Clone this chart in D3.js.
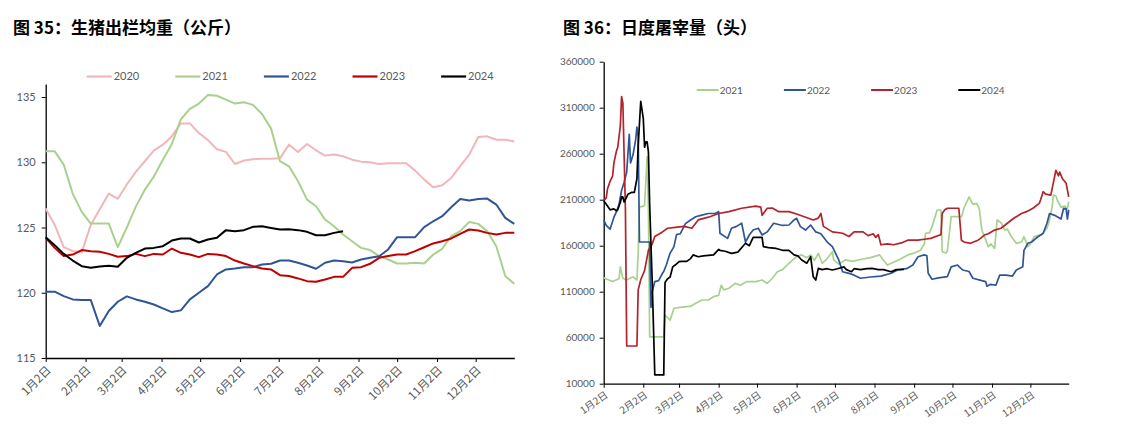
<!DOCTYPE html>
<html><head><meta charset="utf-8">
<script src="https://cdn.jsdelivr.net/npm/d3@7"></script>
<style>body{margin:0;background:#fff;} svg{display:block;}</style>
</head><body>
<svg id="c" width="1148" height="425"></svg>
<script>
// ---------- DATA ----------
const monthTicks = ["1月2日","2月2日","3月2日","4月2日","5月2日","6月2日","7月2日","8月2日","9月2日","10月2日","11月2日","12月2日"];
const leftYTicks = [115,120,125,130,135];
const rightYTicks = [10000,60000,110000,160000,210000,260000,310000,360000];
const leftYears = ["2020","2021","2022","2023","2024"];
const rightYears = ["2021","2022","2023","2024"];

// Fig 35: weekly average slaughter weight (kg), one value per week starting Jan 2
const w2020 = [126.45,125.2,123.5,123.2,123.1,125.2,126.4,127.6,127.2,128.3,129.26,130.08,130.9,131.35,132.0,132.98,132.98,132.24,131.7,131.0,130.8,129.87,130.13,130.23,130.28,130.28,130.3,131.35,130.79,131.4,130.92,130.51,130.59,130.46,130.2,130.05,130.0,129.87,129.92,129.92,129.92,129.36,128.67,128.09,128.24,128.8,129.7,130.59,131.94,131.99,131.73,131.73,131.6];
const w2021 = [130.84,130.84,129.82,127.6,126.2,125.3,125.3,125.3,123.5,125.0,126.6,127.9,128.9,130.2,131.4,133.3,134.1,134.5,135.15,135.1,134.8,134.5,134.6,134.4,133.7,132.6,130.08,129.69,128.55,127.14,126.63,125.61,125.1,124.46,123.95,123.44,123.27,122.81,122.55,122.24,122.24,122.3,122.24,122.93,123.37,124.34,124.72,125.43,125.28,124.72,123.57,121.28,120.69];
const w2022 = [120.08,120.08,119.74,119.49,119.45,119.45,117.45,118.6,119.31,119.72,119.49,119.31,119.1,118.8,118.52,118.65,119.49,120.0,120.51,121.4,121.79,121.86,121.96,121.96,122.17,122.22,122.47,122.47,122.3,122.09,121.84,122.3,122.47,122.42,122.32,122.55,122.68,122.8,123.32,124.26,124.26,124.26,125.03,125.48,125.87,126.56,127.19,127.07,127.19,127.22,126.76,125.74,125.28];
const w2023 = [124.21,123.44,122.81,122.93,123.27,123.19,123.14,122.98,122.76,122.81,122.98,122.81,122.98,122.93,123.39,123.06,122.93,122.73,122.98,122.93,122.81,122.47,122.24,122.04,121.86,121.79,121.35,121.28,121.1,120.89,120.84,121.02,121.22,121.22,121.91,121.96,122.22,122.68,122.81,122.93,122.93,123.19,123.49,123.78,123.95,124.16,124.52,124.85,124.77,124.59,124.46,124.59,124.59];
const w2024 = [124.26,123.65,122.98,122.47,122.04,121.91,122.01,122.07,121.99,122.68,123.06,123.39,123.44,123.57,124.0,124.16,124.16,123.85,124.08,124.21,124.8,124.72,124.8,125.05,125.1,124.97,124.85,124.87,124.8,124.67,124.41,124.41,124.59,124.72];

// Fig 36: daily slaughter (head), [days after Jan 2, thousand head]
const d2021 = [[0,125],[4,122.7],[7,121],[10,123],[12,124],[13,137],[15,124.6],[18,122.7],[21,125],[23,126],[26,122.7],[27,151.7],[28,202],[31,203],[32,203.8],[34,256.7],[35,200],[36,61],[47,61],[48,84.7],[52,79],[55,92],[60,93],[65,93.7],[68,94],[72,97.4],[77,101],[82,101],[86,104.6],[90,106],[92,117],[94,112],[98,113.7],[103,119],[107,117],[112,121],[119,121],[124,122.7],[128,119],[132,124.6],[136,131.7],[140,134],[145,140.9],[148,144.5],[151,148],[155,150],[159,147],[162,150],[165,144],[168,151.7],[171,140.9],[175,146],[179,153.5],[180,144.5],[184,140],[189,144.5],[195,143],[201,145],[209,147],[216,150],[218,146],[222,139],[227,142],[233,146],[238,150],[243,152],[248,155],[251,162],[252,173.5],[255,174],[257,180.7],[261,198.8],[264,198.8],[265,153.5],[268,152],[269,154],[272,191.5],[280,191.5],[282,200.7],[286,213],[289,205],[292,206],[294,200],[296,177],[298,170],[301,159],[303,162],[306,157],[308,188],[311,185],[314,177],[316,178],[319,170],[323,162.6],[327,164],[329,169.8],[332,159],[334,162],[337,169.8],[340,171],[343,172],[347,179],[349,188],[351,202],[352,215],[354,214],[355,209.7],[358,202],[361,203],[363,200],[364,208]];
const d2022 = [[0,188],[2,182],[5,178],[8,191],[10,197],[12,205],[14,220],[16,229],[18,240],[20,281],[21,250],[23,259],[25,275],[26,289],[27,278],[28,164],[36,164],[37,93],[38,110],[40,121],[43,122],[46,130],[47,132],[49,139],[52,152],[55,159],[57,172],[60,173],[64,184],[68,188],[72,191.5],[76,193],[82,195],[87,195],[90,197],[91,173.5],[97,168],[100,179],[104,181],[108,184.4],[111,164],[114,171.6],[117,177],[121,179],[124,171.6],[128,175],[133,184.4],[140,182],[145,182.5],[149,188],[151,189.8],[154,180.7],[158,177],[162,182.5],[166,175],[170,173],[175,164],[179,159],[184,144.5],[187,131.7],[192,130],[196,128],[201,124.6],[209,126],[217,127],[225,130],[230,133.6],[237,135],[242,139],[246,148],[251,150],[253,149],[254,130],[257,123.5],[262,125],[269,126.3],[272,137],[277,139],[281,133.6],[286,132],[289,124.6],[296,122],[299,121],[300,116],[303,118],[307,117],[310,128],[315,128],[320,127],[323,133.6],[328,137],[329,155],[332,162.6],[335,164],[340,169.8],[344,173.5],[347,184.4],[349,195],[353,193],[358,189],[360,200.7],[362,200],[363,189],[364,199]];
const d2023 = [[0,209],[2,212],[3,222],[5,230],[7,236],[8,250],[10,263],[11,267],[13,290],[14,322],[15,315],[17,200],[18,51],[26,51],[27,112],[29,123],[32,133],[35,155],[38,162],[40,170],[46,175],[50,179],[56,180],[63,181],[69,179],[74,188],[82,191],[90,195],[98,197],[108,200.7],[119,203],[123,202],[124,193],[128,200.7],[132,201],[137,197],[145,197],[151,194.5],[157,191.5],[164,188],[168,190],[170,195],[172,181],[179,175],[187,173.5],[192,170],[196,175],[203,175],[207,171],[211,173],[213,169],[215,172],[217,161],[222,162],[227,161],[233,163],[238,166],[246,166],[251,167],[256,168],[261,170.6],[264,172],[265,195],[267,199],[269,200.7],[278,200.7],[280,166],[282,164],[287,162.6],[293,166],[295,168],[298,171.6],[301,173],[306,177],[311,179],[316,184.4],[321,189.8],[327,195],[331,197],[336,200.7],[341,206],[342,210],[344,218.7],[346,216],[350,215],[354,242],[356,236],[357,240],[359,233],[362,227.8],[364,213]];
const d2024 = [[0,209],[2,205],[5,199],[8,200],[10,198],[11,199],[13,207],[14,213],[15,213],[16,207.5],[18,213],[19,216],[22,218],[24,218],[26,233],[27,269],[29,317],[31,298],[32,267],[33,273],[34,273],[35,262],[36,204],[38,120],[40,19.5],[47,19.5],[48,120],[50,124],[52,126],[54,137],[56,139],[59,142.6],[61,143],[65,143],[68,146],[70,150],[74,148],[78,149],[82,149.5],[86,150],[90,156],[91,155],[95,154],[100,151.7],[105,153],[111,162.6],[114,160],[117,169],[124,169],[125,159],[129,158],[135,157],[140,155],[145,155],[149,150],[152,149],[155,144.5],[159,141],[162,148],[164,126.3],[166,122.7],[168,135.4],[171,134],[175,135],[179,133.6],[183,135],[188,137],[190,134],[194,131.7],[196,135],[201,134],[206,135],[210,135.4],[215,134],[219,134],[225,131.7],[229,134],[235,134.3]];

// ---------- STYLE ----------
const leftColors = {"2020":"#F2B6BA","2021":"#A9D18E","2022":"#2F5597","2023":"#C00000","2024":"#000000"};
const rightColors = {"2021":"#A9D18E","2022":"#2F5597","2023":"#B4232C","2024":"#000000"};
const numFont = "Lato, 'Noto Sans CJK SC', sans-serif";
const cjkFont = "'Noto Sans CJK SC', sans-serif";
const txtCol = "#595959";

const svg = d3.select("#c");
const base = Date.UTC(2021,0,2);
const dayMs = 86400000;
const dateOf = d => new Date(base + d*dayMs);
const tickDates = monthTicks.map((t,i)=>new Date(Date.UTC(2021,i,2)));
const domainX = [new Date(base), new Date(Date.UTC(2022,0,1))];

// titles
svg.append("text").attr("x",13).attr("y",34).attr("font-family",cjkFont).attr("font-weight","bold")
  .attr("font-size",17).attr("fill","#000").text("图 35：生猪出栏均重（公斤）");
svg.append("text").attr("x",563).attr("y",34).attr("font-family",cjkFont).attr("font-weight","bold")
  .attr("font-size",17).attr("fill","#000").text("图 36：日度屠宰量（头）");

function drawAxes(g, x, y, yTicks, opts){
  const ya = g.append("g").attr("transform",`translate(${x.range()[0]},0)`)
    .call(d3.axisLeft(y).tickValues(yTicks).tickSize(4).tickSizeOuter(0).tickPadding(opts.ypad).tickFormat(d=>d));
  ya.select(".domain").attr("stroke","#000").attr("stroke-width",1.3);
  ya.selectAll(".tick line").attr("stroke","#000");
  ya.selectAll(".tick text").attr("fill",txtCol).attr("font-family",numFont).attr("font-size",opts.yfs);
  const xa = g.append("g").attr("transform",`translate(0,${y.range()[0]})`)
    .call(d3.axisBottom(x).tickValues(tickDates).tickSize(4).tickSizeOuter(0).tickFormat(""));
  xa.select(".domain").attr("stroke","#000").attr("stroke-width",1.3);
  xa.selectAll(".tick line").attr("stroke","#000");
  g.selectAll(".xl").data(tickDates).enter().append("text")
    .attr("transform",(d)=>`translate(${x(d)+opts.lx},${y.range()[0]+opts.ly}) rotate(${opts.rot})`)
    .attr("text-anchor","end").attr("dy","0.35em")
    .attr("font-family",cjkFont).attr("font-size",opts.xfs).attr("fill",txtCol)
    .text((d,i)=>monthTicks[i]);
}

// ---------- LEFT CHART ----------
{
  const g = svg.append("g");
  const x = d3.scaleUtc().domain(domainX).range([45.7,514.3]);
  const y = d3.scaleLinear().domain([115,136]).range([358,84]);
  drawAxes(g,x,y,leftYTicks,{ypad:6,yfs:11,xfs:11.5,lx:3,ly:10,rot:-45});
  const series = {"2020":w2020,"2021":w2021,"2022":w2022,"2023":w2023,"2024":w2024};
  const line = d3.line().x((d,i)=>x(dateOf(i*7))).y(d=>y(d));
  leftYears.forEach(yr=>{
    g.append("path").datum(series[yr]).attr("d",line).attr("fill","none")
      .attr("stroke",leftColors[yr]).attr("stroke-width",2).attr("stroke-linejoin","round");
  });
  // legend
  leftYears.forEach((yr,i)=>{
    const lx = 86.7 + i*88.6;
    g.append("line").attr("x1",lx).attr("x2",lx+25).attr("y1",76.5).attr("y2",76.5)
      .attr("stroke",leftColors[yr]).attr("stroke-width",2.2);
    g.append("text").attr("x",lx+27).attr("y",76.5).attr("dy","0.35em").attr("font-family",numFont)
      .attr("font-size",11).attr("fill",txtCol).text(yr);
  });
}

// ---------- RIGHT CHART ----------
{
  const g = svg.append("g");
  const x = d3.scaleUtc().domain(domainX).range([603.7,1068.7]);
  const y = d3.scaleLinear().domain([10000,360000]).range([383.7,61.7]);
  drawAxes(g,x,y,rightYTicks,{ypad:5,yfs:10,xfs:10,lx:3,ly:10,rot:-35});
  const series = {"2021":d2021,"2022":d2022,"2023":d2023,"2024":d2024};
  const line = d3.line().x(d=>x(dateOf(d[0]))).y(d=>y(d[1]*1000));
  rightYears.forEach(yr=>{
    g.append("path").datum(series[yr]).attr("d",line).attr("fill","none")
      .attr("stroke",rightColors[yr]).attr("stroke-width",1.7).attr("stroke-linejoin","round");
  });
  rightYears.forEach((yr,i)=>{
    const lx = 696.7 + i*87.2;
    g.append("line").attr("x1",lx).attr("x2",lx+22).attr("y1",90).attr("y2",90)
      .attr("stroke",rightColors[yr]).attr("stroke-width",2);
    g.append("text").attr("x",lx+23).attr("y",90).attr("dy","0.35em").attr("font-family",numFont)
      .attr("font-size",10).attr("fill",txtCol).text(yr);
  });
}
</script></body></html>
